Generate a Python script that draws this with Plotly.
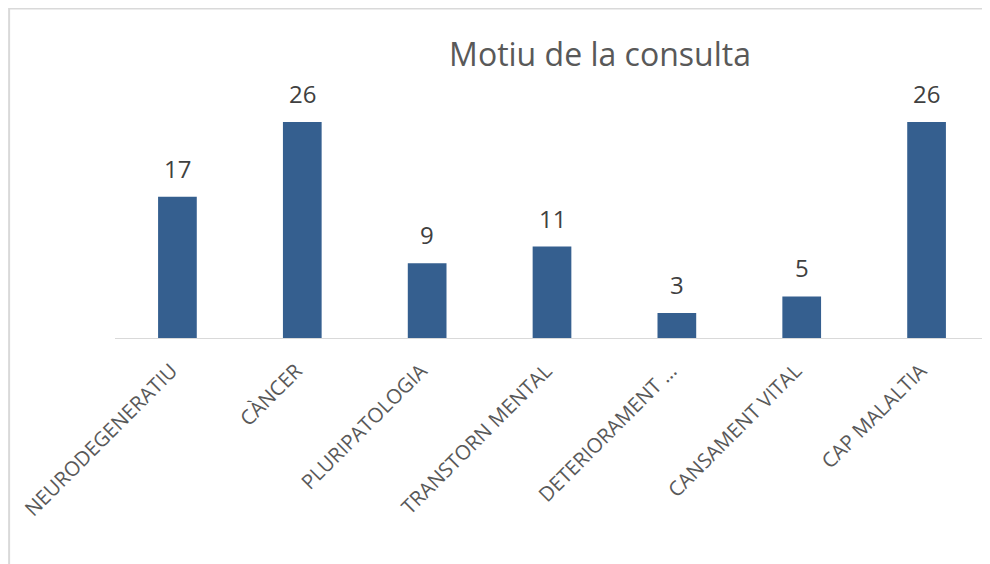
import plotly.graph_objects as go

categories = ["NEURODEGENERATIU", "CÀNCER", "PLURIPATOLOGIA", "TRANSTORN MENTAL",
              "DETERIORAMENT ...", "CANSAMENT VITAL", "CAP MALALTIA"]
values = [17, 26, 9, 11, 3, 5, 26]

# the page puts the figure 8px in from the top-left corner
W, H = 990, 564
left, right, top, bottom = 106.5, 8.5, 82, 234
plot_w = W - left - right
plot_h = H - top - bottom

fig = go.Figure()
fig.add_trace(go.Bar(x=categories, y=values, marker_color="#355F8F",
                     marker_line_width=0, hoverinfo="x+y"))

# value labels above each bar
for c, v in zip(categories, values):
    fig.add_annotation(x=c, y=v, text=str(v), showarrow=False, yanchor="bottom",
                       yshift=10, font=dict(family="Open Sans", size=24, color="#404040"))

# thin frame at the top and left of the chart area
px = lambda x: (x - left) / plot_w
py = lambda y: (H - bottom - y) / plot_h
fig.add_shape(type="line", xref="paper", yref="paper", x0=px(0), x1=px(995),
              y0=py(0.5), y1=py(0.5), line=dict(color="#d9d9d9", width=2))
fig.add_shape(type="line", xref="paper", yref="paper", x0=px(0.5), x1=px(0.5),
              y0=py(0), y1=py(570), line=dict(color="#d9d9d9", width=2))

fig.update_layout(
    width=W, height=H,
    margin=dict(l=left, r=right, t=top, b=bottom, pad=0),
    paper_bgcolor="white", plot_bgcolor="white",
    bargap=0.69, showlegend=False,
    title=dict(text="Motiu de la consulta", x=0.598, xanchor="center", y=0.9167, yanchor="middle",
               font=dict(family="Open Sans", size=32, color="#595959")),
    xaxis=dict(tickangle=-45, showgrid=False, showline=True, linecolor="#d9d9d9",
               linewidth=1, ticks="", ticklabelstandoff=12, ticklabelshift=-6,
               tickfont=dict(family="Open Sans", size=20.3, color="#595959")),
    yaxis=dict(range=[0, plot_h / (216 / 26)], visible=False, showgrid=False),
)

fig.write_html("out.html")
